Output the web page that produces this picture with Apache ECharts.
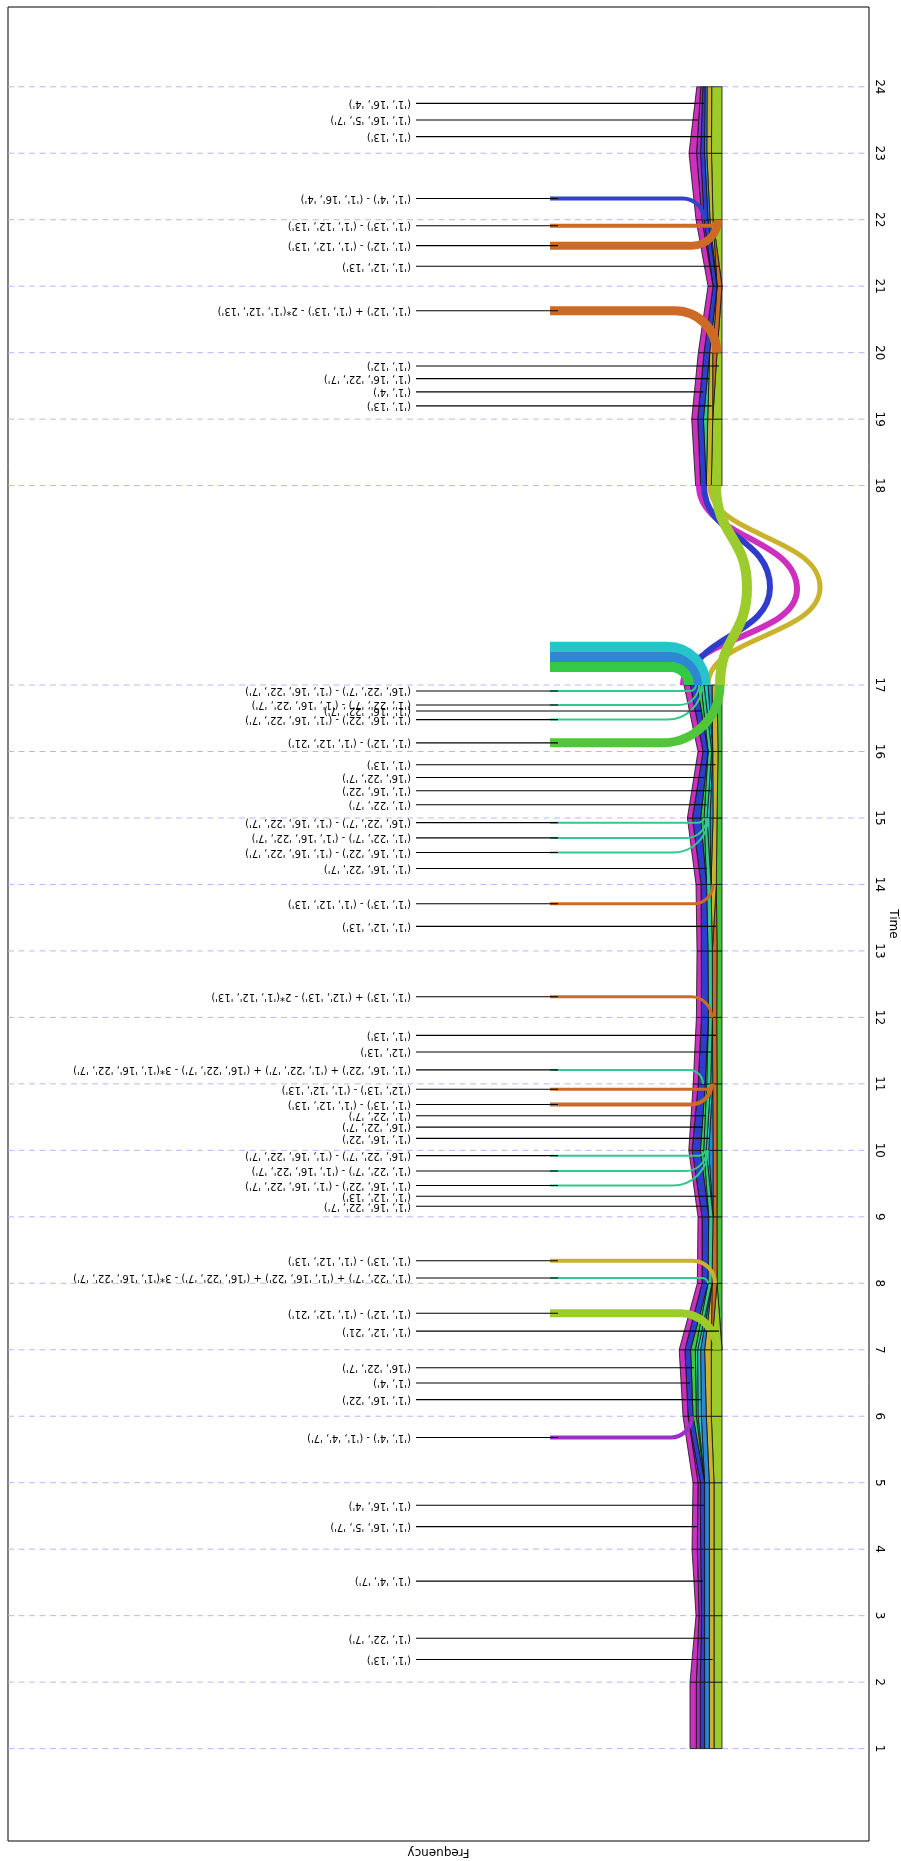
<!DOCTYPE html>
<html>
<head>
<meta charset="utf-8">
<script src="https://cdn.jsdelivr.net/npm/echarts@6/dist/echarts.min.js"></script>
<style>
  html, body { margin: 0; padding: 0; background: #fff; }
  #chart { width: 901px; height: 1861px; }
</style>
</head>
<body>
<div id="chart"></div>
<script>
// Time steps of the stream (the 17 -> 18 gap is drawn three slots tall)
const times = [1, 2, 3, 4, 5, 6, 7, 8, 9, 10, 11, 12, 13, 14, 15, 16, 17, 18, 19, 20, 21, 22, 23, 24];

// Stream layers, listed from the baseline outwards
const layerKeys = ['lime', 'yg', 'orange', 'yellow', 'dodger', 'cyan', 'teal', 'green', 'blue', 'purple', 'magenta'];
const wLime    = [0, 0, 0, 0, 0, 0, 0, 5, 5, 5, 5, 5.3, 5, 5.7, 5, 4, 5, 0, 0, 0, 0, 0, 0, 0];
const wYg      = [8, 8, 8, 8, 8, 10.7, 10.7, 0, 0, 0, 0, 0, 0, 0, 0, 0, 0, 10.7, 9.3, 5, 0, 9, 10.5, 10.3];
const wOrange  = [0, 0, 0, 0, 0, 0, 0, 5, 4, 4, 4.3, 4.3, 4.7, 0, 0, 0, 0, 0, 0, 4.3, 5, 0, 0, 0];
const wYellow  = [4.7, 4.7, 4.7, 4.7, 4.7, 5, 6.7, 0, 0, 0, 0, 0, 0, 5.3, 4, 5.3, 5, 5, 5, 3, 0, 3, 4.7, 4.6];
const wDodger  = [4.7, 4.7, 4.7, 4.7, 4.7, 5, 4, 0, 0, 4.3, 0, 0, 0, 0, 3, 0, 4, 0, 0, 0, 0, 2, 2.3, 2];
const wCyan    = [0, 0, 0, 0, 0, 3.3, 3, 0, 0, 2.5, 2, 0, 0, 0, 3, 1, 4, 0, 0, 0, 0, 0, 0, 0];
const wTeal    = [0, 0, 0, 0, 0, 1.7, 2.3, 4, 4.3, 2.5, 4, 4, 4.3, 4.5, 3, 3.7, 3, 0, 4.3, 0, 0, 0, 0, 0];
const wGreen   = [0, 0, 0, 0, 0, 3.3, 4.7, 0, 0, 3.3, 1.5, 0, 0, 0, 3.3, 0, 4, 0, 0, 0, 0, 0, 0, 0];
const wBlue    = [4.3, 4.3, 3.3, 4, 4.3, 5, 5.7, 6, 6.7, 8.3, 7, 7, 6.7, 5.5, 8.3, 5, 6.7, 5.7, 5.7, 5.7, 4, 4, 4, 2.3];
const wPurple  = [4, 4, 2.3, 3.3, 2.3, 0, 0, 0, 0, 0, 0, 0, 0, 0, 0, 0, 0, 0, 0, 0, 0, 2, 4, 2];
const wMagenta = [6.3, 6.3, 3, 5.3, 5, 5, 5.7, 4.7, 4, 3.3, 5, 5, 4.3, 5, 5, 5, 6.3, 5, 6, 5.7, 5, 6, 7.5, 4];

// Itemset labels with the stream depth their leader line reaches
const plainTimes = [2.34, 2.66, 3.52, 4.34, 4.66, 6.25, 6.50, 6.73, 7.28, 9.16, 9.31, 10.18, 10.35, 10.52, 11.48, 11.73, 13.37, 14.24, 15.20, 15.41, 15.61, 15.80, 16.61, 19.20, 19.41, 19.61, 19.80, 21.30, 23.25, 23.50, 23.75];
const plainTexts = [
  "('1', '13')", "('1', '22', '7')", "('1', '4', '7')", "('1', '16', '5', '7')", "('1', '16', '4')",
  "('1', '16', '22')", "('1', '4')", "('16', '22', '7')", "('1', '12', '21')",
  "('1', '16', '22', '7')", "('1', '12', '13')",
  "('1', '16', '22')", "('16', '22', '7')", "('1', '22', '7')",
  "('12', '13')", "('1', '13')", "('1', '12', '13')", "('1', '16', '22', '7')",
  "('1', '22', '7')", "('1', '16', '22')", "('16', '22', '7')", "('1', '13')", "('1', '16', '22', '7')",
  "('1', '13')", "('1', '4')", "('1', '16', '22', '7')", "('1', '12')",
  "('1', '12', '13')", "('1', '13')", "('1', '16', '5', '7')", "('1', '16', '4')"
];
const plainEnds = [9.3, 13.3, 19.3, 25.3, 17.7, 21.3, 32, 28, 3, 13.7, 6, 12, 19.3, 16.3, 11, 6, 6, 15.3, 15.3, 11, 17.7, 6.3, 20, 10.3, 18.7, 12.7, 3, 3, 11, 24, 18];

// Derived patterns: label time, time they join the stream, depth, colour, line width
const eventTimes   = [5.68, 7.55, 8.08, 8.34, 9.47, 9.69, 9.92, 10.69, 10.92, 11.21, 12.31, 13.71, 14.48, 14.70, 14.93, 16.13, 16.48, 16.70, 16.91, 20.63, 21.61, 21.91, 22.32];
const eventTargets = [6, 7, 8, 8, 10, 10, 10, 11, 11, 11, 12, 14, 15, 15, 15, 17, 17, 17, 17, 20, 22, 22, 22];
const eventEnds    = [30, 5, 14, 7, 14, 15.3, 17, 10.3, 9, 19, 10.3, 9, 14, 15.3, 18, 2, 20, 23, 26, 5.3, 4, 6, 18];
const eventColors  = ['purple', 'yg', 'teal', 'yellow', 'teal', 'teal', 'teal', 'orange', 'orange', 'teal', 'orange', 'orange', 'teal', 'teal', 'teal', 'limeEv', 'teal', 'teal', 'teal', 'orange', 'orange', 'orange', 'blueEv'];
const eventWidths  = [4, 8, 2, 4, 2, 2, 2, 4, 3, 2, 3, 3, 2, 2, 2, 9, 2, 2, 2, 9, 8, 4, 4];
const eventTexts = [
  "('1', '4') - ('1', '4', '7')",
  "('1', '12') - ('1', '12', '21')",
  "('1', '22', '7') + ('1', '16', '22') + ('16', '22', '7') - 3*('1', '16', '22', '7')",
  "('1', '13') - ('1', '12', '13')",
  "('1', '16', '22') - ('1', '16', '22', '7')",
  "('1', '22', '7') - ('1', '16', '22', '7')",
  "('16', '22', '7') - ('1', '16', '22', '7')",
  "('1', '13') - ('1', '12', '13')",
  "('12', '13') - ('1', '12', '13')",
  "('1', '16', '22') + ('1', '22', '7') + ('16', '22', '7') - 3*('1', '16', '22', '7')",
  "('1', '13') + ('12', '13') - 2*('1', '12', '13')",
  "('1', '13') - ('1', '12', '13')",
  "('1', '16', '22') - ('1', '16', '22', '7')",
  "('1', '22', '7') - ('1', '16', '22', '7')",
  "('16', '22', '7') - ('1', '16', '22', '7')",
  "('1', '12') - ('1', '12', '21')",
  "('1', '16', '22') - ('1', '16', '22', '7')",
  "('1', '22', '7') - ('1', '16', '22', '7')",
  "('16', '22', '7') - ('1', '16', '22', '7')",
  "('1', '12') + ('1', '13') - 2*('1', '12', '13')",
  "('1', '12') - ('1', '12', '13')",
  "('1', '13') - ('1', '12', '13')",
  "('1', '4') - ('1', '16', '4')"
];

// Unlabelled flows entering the stream just after t = 17
const flowTimes  = [17.19, 17.14, 17.09];
const flowEnds   = [17, 25, 33];
const flowColors = ['cyan', 'dodger', 'greenEv'];
const flowWidths = [11, 10, 10];

// Streams looping out between t = 17 and t = 18
const bumpStart  = [14, 39, 32, 2];
const bumpPeak   = [-98, -75, -48, -25];
const bumpEnd    = [12, 23, 18, 6];
const bumpPeakAt = [17.49, 17.48, 17.49, 17.49];
const bumpColors = ['yellow', 'magenta', 'blue', 'yg'];
const bumpWidths = [5, 6, 6, 10];

const palette = {
  magenta: '#cd2fbe', purple: '#9a30c8', blue: '#2f3dcc', dodger: '#2d87d2',
  cyan: '#26c4c9', teal: '#33c98c', green: '#3cc93c', yellow: '#c9b22c',
  yg: '#9ccb2c', orange: '#cc6a26', lime: '#44c23a',
  limeEv: '#52c63a', greenEv: '#33c944', blueEv: '#2f45c8'
};

const widths = [wLime, wYg, wOrange, wYellow, wDodger, wCyan, wTeal, wGreen, wBlue, wPurple, wMagenta];

// Position on the time axis: the 17 -> 18 interval is stretched threefold
function timeToPos(t) {
  if (t <= 17) return t;
  if (t >= 18) return t + 2;
  return 17 + (t - 17) * 3;
}
function posToTime(p) { return p <= 17 ? p : p - 2; }

// Cumulative offsets of every layer at every time step
const cum = widths.map(() => []);
times.forEach((t, i) => {
  let acc = 0;
  widths.forEach((w, L) => { cum[L][i] = acc; acc += w[i]; });
});

const LABEL_X = 311;     // right end of label text (frequency units)
const LEADER_X = 306;    // start of leader lines
const EVENT_X = 172;     // start of coloured pattern lines
const EVENT_LEADER_END = 164;
const FONT = 'DejaVu Sans';

const segData = [];
for (let i = 0; i < times.length - 1; i++) {
  if (times[i] === 17) continue;
  for (let L = 0; L < widths.length; L++) segData.push([i, L]);
}

function curvePath(s, e) {
  const r = Math.max(Math.abs(e[1] - s[1]), 6);
  const ax = Math.max(s[0], e[0] - r);
  const rx = e[0] - ax;
  return 'M' + s[0] + ' ' + s[1] + ' L' + ax + ' ' + s[1] +
    ' C' + (ax + 0.552 * rx) + ' ' + s[1] + ' ' + e[0] + ' ' + (e[1] + 0.552 * (s[1] - e[1])) +
    ' ' + e[0] + ' ' + e[1];
}

const tickPos = times.map(timeToPos);

const option = {
  animation: false,
  backgroundColor: '#fff',
  grid: { left: 8, right: 32, top: 7, bottom: 20, outerBoundsMode: 'none', containLabel: false,
    show: true, borderColor: '#000', borderWidth: 1, backgroundColor: 'transparent' },
  graphic: [{
    type: 'text', x: 893, y: 924, rotation: -Math.PI / 2,
    style: { text: 'Time', align: 'center', verticalAlign: 'middle', fontFamily: FONT, fontSize: 12, fill: '#000' }
  }],
  xAxis: {
    type: 'value', inverse: true, min: -147, max: 714,
    name: 'Frequency', nameLocation: 'middle', nameGap: 5, nameRotate: 180,
    nameTextStyle: { fontFamily: FONT, fontSize: 12, color: '#000' },
    axisLine: { show: false }, axisTick: { show: false }, axisLabel: { show: false }, splitLine: { show: false }
  },
  yAxis: {
    type: 'value', position: 'right', min: -0.39, max: 27.2,
    axisLine: { show: false }, axisTick: { show: false }, splitLine: { show: false },
    axisLabel: {
      customValues: tickPos, rotate: -90, margin: 4,
      fontFamily: FONT, fontSize: 12, color: '#000',
      formatter: v => String(posToTime(v))
    }
  },
  series: [
    { // dashed guides at every time step
      type: 'custom', silent: true, data: tickPos.map(p => [p]),
      renderItem(params, api) {
        const cs = params.coordSys;
        const y = api.coord([0, api.value(0)])[1];
        return { type: 'line', shape: { x1: cs.x, y1: y, x2: cs.x + cs.width, y2: y },
          style: { stroke: '#b7b7f6', lineWidth: 1, lineDash: [6, 4.5] } };
      }
    },
    { // stacked stream layers
      type: 'custom', silent: true, data: segData,
      renderItem(params, api) {
        const i = api.value(0), L = api.value(1);
        const w = widths[L];
        if (w[i] === 0 && w[i + 1] === 0) return null;
        const p0 = timeToPos(times[i]), p1 = timeToPos(times[i + 1]);
        const r0 = cum[L][i], r1 = cum[L][i + 1];
        const pts = [api.coord([r0, p0]), api.coord([r0 + w[i], p0]), api.coord([r1 + w[i + 1], p1]), api.coord([r1, p1])];
        return { type: 'polygon', shape: { points: pts },
          style: { fill: palette[layerKeys[L]], stroke: '#111', lineWidth: 0.8 } };
      }
    },
    { // loops between t = 17 and t = 18
      type: 'custom', silent: true, data: bumpStart.map((v, k) => [v, bumpPeak[k], bumpEnd[k], bumpPeakAt[k]]),
      renderItem(params, api) {
        const k = params.dataIndex;
        const s = api.coord([api.value(0), timeToPos(17)]);
        const pk = api.coord([api.value(1), timeToPos(api.value(3))]);
        const e = api.coord([api.value(2), timeToPos(18)]);
        const d1 = pk[1] - s[1], d2 = e[1] - pk[1];
        const path = 'M' + s[0] + ' ' + s[1] +
          ' C' + s[0] + ' ' + (s[1] + 0.5 * d1) + ' ' + pk[0] + ' ' + (pk[1] - 0.5 * d1) + ' ' + pk[0] + ' ' + pk[1] +
          ' C' + pk[0] + ' ' + (pk[1] + 0.5 * d2) + ' ' + e[0] + ' ' + (e[1] - 0.5 * d2) + ' ' + e[0] + ' ' + e[1];
        return { type: 'path', shape: { pathData: path },
          style: { fill: null, stroke: palette[bumpColors[k]], lineWidth: bumpWidths[k] } };
      }
    },
    { // unlabelled flows
      type: 'custom', silent: true, data: flowTimes.map((t, k) => [t, flowEnds[k]]),
      renderItem(params, api) {
        const k = params.dataIndex;
        const s = api.coord([EVENT_X, timeToPos(api.value(0))]);
        const e = api.coord([api.value(1), timeToPos(17)]);
        return { type: 'path', shape: { pathData: curvePath(s, e) },
          style: { fill: null, stroke: palette[flowColors[k]], lineWidth: flowWidths[k] } };
      }
    },
    { // derived-pattern lines
      type: 'custom', silent: true, data: eventTimes.map((t, k) => [t, eventTargets[k], eventEnds[k]]),
      renderItem(params, api) {
        const k = params.dataIndex;
        const s = api.coord([EVENT_X, timeToPos(api.value(0))]);
        const e = api.coord([api.value(2), timeToPos(api.value(1))]);
        return { type: 'path', shape: { pathData: curvePath(s, e) },
          style: { fill: null, stroke: palette[eventColors[k]], lineWidth: eventWidths[k] } };
      }
    },
    { // leader lines and labels
      type: 'custom', silent: true,
      data: plainTimes.map((t, k) => [t, plainEnds[k], k, 0]).concat(eventTimes.map((t, k) => [t, EVENT_LEADER_END, k, 1])),
      renderItem(params, api) {
        const p = timeToPos(api.value(0));
        const k = api.value(2);
        const text = api.value(3) ? eventTexts[k] : plainTexts[k];
        const a = api.coord([LEADER_X, p]);
        const b = api.coord([api.value(1), p]);
        const tp = api.coord([LABEL_X, p]);
        return { type: 'group', children: [
          { type: 'line', shape: { x1: a[0], y1: a[1], x2: b[0], y2: b[1] }, style: { stroke: '#000', lineWidth: 1.1 } },
          { type: 'text', x: tp[0], y: tp[1], rotation: Math.PI,
            style: { text: text, align: 'left', verticalAlign: 'middle', fontFamily: FONT, fontSize: 10, fill: '#000' } }
        ] };
      }
    }
  ]
};

const chart = echarts.init(document.getElementById('chart'), null, { renderer: 'canvas' });
chart.setOption(option);
</script>
</body>
</html>
